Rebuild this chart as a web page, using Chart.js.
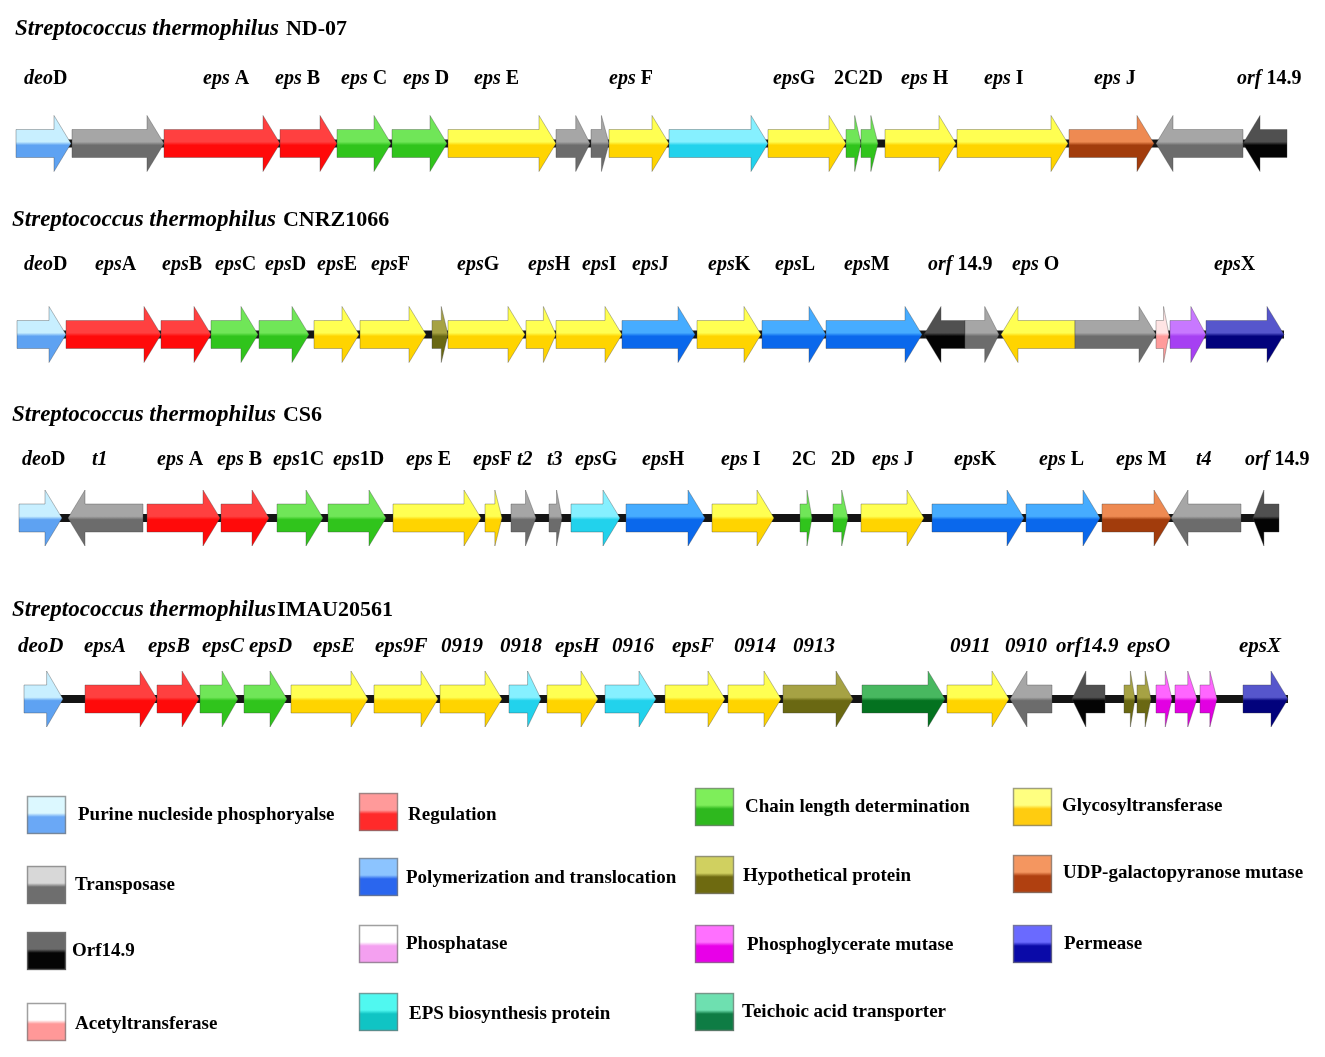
<!DOCTYPE html>
<html>
<head>
<meta charset="utf-8">
<script src="https://cdn.jsdelivr.net/npm/chart.js@4.4.1/dist/chart.umd.min.js"></script>
<style>
  html, body { margin:0; padding:0; background:#ffffff; }
  #wrap { width:1325px; height:1057px; position:relative; }
  canvas { display:block; }
</style>
</head>
<body>
<div id="wrap"><canvas id="c" width="1325" height="1057" style="width:1325px;height:1057px"></canvas></div>
<script>
// ---------- DATA ----------
// Strain names
const strainSpecies = ["Streptococcus thermophilus","Streptococcus thermophilus","Streptococcus thermophilus","Streptococcus thermophilus"];
const strainNames = ["ND-07","CNRZ1066","CS6","IMAU20561"];

// Gene categories (functional classes)
const categoryNames = [
  "Purine nucleside phosphoryalse","Transposase","Orf14.9","Acetyltransferase",
  "Regulation","Polymerization and translocation","Phosphatase","EPS biosynthesis protein",
  "Chain length determination","Hypothetical protein","Phosphoglycerate mutase","Teichoic acid transporter",
  "Glycosyltransferase","UDP-galactopyranose mutase","Permease"
];
const categoryKeys = ["pur","tra","orf","ace","reg","pol","pho","eps","chl","hyp","pgm","tei","gly","udp","per"];

// Row 1: ND-07 — gene start, gene end (position along cluster), strand, category
const nd07Start  = [16, 72, 164, 280, 337, 392, 448, 556, 591, 609, 669, 768, 846, 861, 885, 957, 1069, 1156, 1243];
const nd07End    = [71, 164, 280, 337, 391, 447, 556, 590, 609, 669, 768, 846, 861, 878, 956, 1068, 1154, 1243, 1287];
const nd07Strand = [1,1,1,1,1,1,1,1,1,1,1,1,1,1,1,1,1,-1,-1];
const nd07Cat    = ["pur","tra","reg","reg","chl","chl","gly","tra","tra","gly","eps","gly","chl","chl","gly","gly","udp","tra","orf"];
const nd07Labels = [["deo","D"],["eps"," A"],["eps"," B"],["eps"," C"],["eps"," D"],["eps"," E"],["eps"," F"],["eps","G"],["","2C2D"],["eps"," H"],["eps"," I"],["eps"," J"],["orf"," 14.9"]];
const nd07LabelPos = [24, 203, 275, 341, 403, 474, 609, 773, 834, 901, 984, 1094, 1237];

// Row 2: CNRZ1066
const cnrzStart  = [17, 66, 161, 211, 259, 314, 360, 432, 448, 526, 556, 622, 697, 762, 826, 924, 965, 1001, 1075, 1156, 1170, 1206];
const cnrzEnd    = [66, 161, 211, 258, 309, 359, 426, 448, 525, 556, 622, 695, 761, 826, 922, 965, 999, 1075, 1156, 1169, 1206, 1284];
const cnrzStrand = [1,1,1,1,1,1,1,1,1,1,1,1,1,1,1,-1,1,-1,1,1,1,1];
const cnrzCat    = ["pur","reg","reg","chl","chl","gly","gly","hyp","gly","gly","gly","pol","gly","pol","pol","orf","tra","gly","tra","ace","pho","per"];
const cnrzLabels = [["deo","D"],["eps","A"],["eps","B"],["eps","C"],["eps","D"],["eps","E"],["eps","F"],["eps","G"],["eps","H"],["eps","I"],["eps","J"],["eps","K"],["eps","L"],["eps","M"],["orf"," 14.9"],["eps"," O"],["eps","X"]];
const cnrzLabelPos = [24, 95, 162, 215, 265, 317, 371, 457, 528, 582, 632, 708, 775, 844, 928, 1012, 1214];

// Row 3: CS6
const cs6Start  = [19, 68, 147, 221, 277, 328, 393, 485, 511, 549, 571, 626, 712, 800, 833, 861, 932, 1026, 1102, 1171, 1253];
const cs6End    = [62, 143, 220, 269, 323, 386, 481, 502, 536, 562, 620, 705, 774, 812, 848, 924, 1024, 1100, 1171, 1241, 1279];
const cs6Strand = [1,-1,1,1,1,1,1,1,1,1,1,1,1,1,1,1,1,1,1,-1,-1];
const cs6Cat    = ["pur","tra","reg","reg","chl","chl","gly","gly","tra","tra","eps","pol","gly","chl","chl","gly","pol","pol","udp","tra","orf"];
const cs6Labels = [["deo","D"],["t1",""],["eps"," A"],["eps"," B"],["eps","1C"],["eps","1D"],["eps"," E"],["eps","F"],["t2",""],["t3",""],["eps","G"],["eps","H"],["eps"," I"],["","2C"],["","2D"],["eps"," J"],["eps","K"],["eps"," L"],["eps"," M"],["t4",""],["orf"," 14.9"]];
const cs6LabelPos = [22, 92, 157, 217, 273, 333, 406, 473, 517, 547, 575, 642, 721, 792, 831, 872, 954, 1039, 1116, 1196, 1245];

// Row 4: IMAU20561
const imauStart  = [24, 85, 157, 200, 244, 291, 374, 440, 509, 547, 605, 665, 728, 783, 862, 947, 1010, 1072, 1124, 1137, 1156, 1175, 1200, 1243];
const imauEnd    = [63, 157, 199, 238, 287, 368, 438, 502, 541, 598, 656, 725, 781, 853, 945, 1009, 1052, 1105, 1135, 1151, 1172, 1197, 1217, 1288];
const imauStrand = [1,1,1,1,1,1,1,1,1,1,1,1,1,1,1,1,-1,-1,1,1,1,1,1,1];
const imauCat    = ["pur","reg","reg","chl","chl","gly","gly","gly","eps","gly","eps","gly","gly","hyp","tei","gly","tra","orf","hyp","hyp","pgm","pgm","pgm","per"];
const imauLabels = [["deoD",""],["epsA",""],["epsB",""],["epsC",""],["epsD",""],["epsE",""],["eps9F",""],["0919",""],["0918",""],["epsH",""],["0916",""],["epsF",""],["0914",""],["0913",""],["0911",""],["0910",""],["orf14.9",""],["epsO",""],["epsX",""]];
const imauLabelPos = [18, 84, 148, 202, 249, 313, 375, 441, 500, 555, 612, 672, 734, 793, 950, 1005, 1056, 1127, 1239];

// ---------- STYLE / LAYOUT ----------
const fillColors = {
  pur:["#c8efff","#5ea2f2"], tra:["#a6a6a6","#6c6c6c"], orf:["#505050","#040404"], ace:["#ffe4e4","#ff9c9c"],
  reg:["#ff4040","#ff0a0a"], pol:["#46acff","#0a68ec"], pho:["#c878ff","#a640f2"], eps:["#86f0ff","#22d2ec"],
  chl:["#70e658","#30c41c"], hyp:["#a6a244","#6a6812"], pgm:["#ff66ff","#e200e2"], tei:["#48b860","#047220"],
  gly:["#ffff52","#ffd400"], udp:["#ee8a52","#a23c0c"], per:["#5656cc","#02027c"]
};
const swatchColors = {
  pur:["#dcf8ff","#6aa8f6"], tra:["#d8d8d8","#6e6e6e"], orf:["#6a6a6a","#050505"], ace:["#ffffff","#ff9898"],
  reg:["#ff9a9a","#ff2a2a"], pol:["#8cc4ff","#2a66ee"], pho:["#ffffff","#f4a0f0"], eps:["#50f8f0","#10c4c4"],
  chl:["#7eee5a","#2eb81e"], hyp:["#d0d060","#6e6a10"], pgm:["#ff70ff","#e800e8"], tei:["#6ee0b0","#0e7c44"],
  gly:["#ffff80","#ffcc10"], udp:["#f49660","#b04010"], per:["#6a6aff","#0a0aa8"]
};
const rowY = [143.5, 334.5, 518, 699];
const titleY = [29, 220, 415, 610];
const labelY = [79, 265, 460, 647];

const rows = [
  {s:nd07Start, e:nd07End, d:nd07Strand, c:nd07Cat, L:nd07Labels, P:nd07LabelPos, allItalic:false},
  {s:cnrzStart, e:cnrzEnd, d:cnrzStrand, c:cnrzCat, L:cnrzLabels, P:cnrzLabelPos, allItalic:false},
  {s:cs6Start, e:cs6End, d:cs6Strand, c:cs6Cat, L:cs6Labels, P:cs6LabelPos, allItalic:false},
  {s:imauStart, e:imauEnd, d:imauStrand, c:imauCat, L:imauLabels, P:imauLabelPos, allItalic:true}
];

// legend layout: [category key, swatch x, swatch y(top), text x, text y(middle)]
const legendLayout = [
  ["pur",27,796,78,815],["tra",27,866,75,885],["orf",27,932,72,951],["ace",27,1003,75,1024],
  ["reg",359,793,408,815],["pol",359,858,406,878],["pho",359,925,406,944],["eps",359,993,409,1014],
  ["chl",695,788,745,807],["hyp",695,856,743,876],["pgm",695,925,747,945],["tei",695,993,742,1012],
  ["gly",1013,788,1062,806],["udp",1013,855,1063,873],["per",1013,925,1064,944]
];

const SERIF = '"Liberation Serif","Times New Roman",serif';
const BODY_H = 14, HEAD_H = 28;

function drawGene(ctx, x0, x1, cy, dir, cols) {
  const len = x1 - x0;
  const h = Math.min(17, len * 0.42);
  ctx.beginPath();
  if (dir > 0) {
    ctx.moveTo(x0, cy - BODY_H);
    ctx.lineTo(x1 - h, cy - BODY_H);
    ctx.lineTo(x1 - h, cy - HEAD_H);
    ctx.lineTo(x1, cy);
    ctx.lineTo(x1 - h, cy + HEAD_H);
    ctx.lineTo(x1 - h, cy + BODY_H);
    ctx.lineTo(x0, cy + BODY_H);
  } else {
    ctx.moveTo(x1, cy - BODY_H);
    ctx.lineTo(x0 + h, cy - BODY_H);
    ctx.lineTo(x0 + h, cy - HEAD_H);
    ctx.lineTo(x0, cy);
    ctx.lineTo(x0 + h, cy + HEAD_H);
    ctx.lineTo(x0 + h, cy + BODY_H);
    ctx.lineTo(x1, cy + BODY_H);
  }
  ctx.closePath();
  const g = ctx.createLinearGradient(0, cy - HEAD_H, 0, cy + HEAD_H);
  g.addColorStop(0, cols[0]);
  g.addColorStop(0.47, cols[0]);
  g.addColorStop(0.53, cols[1]);
  g.addColorStop(1, cols[1]);
  ctx.fillStyle = g;
  ctx.fill();
  ctx.lineWidth = 1;
  ctx.strokeStyle = "rgba(60,60,60,0.35)";
  ctx.stroke();
}

function drawMixed(ctx, x, y, ital, norm, size, allItalic) {
  ctx.textBaseline = "middle";
  ctx.textAlign = "left";
  ctx.fillStyle = "#000";
  let cx = x;
  if (ital) {
    ctx.font = "italic bold " + size + "px " + SERIF;
    ctx.fillText(ital, cx, y);
    cx += ctx.measureText(ital).width;
  }
  if (norm) {
    ctx.font = (allItalic ? "italic " : "") + "bold " + size + "px " + SERIF;
    ctx.fillText(norm, cx, y);
  }
}

const genePlugin = {
  id: "geneClusters",
  afterDraw(chart) {
    const ctx = chart.ctx;
    const xs = chart.scales.x, ys = chart.scales.y;
    ctx.save();
    rows.forEach((r, ri) => {
      const cy = ys.getPixelForValue(rowY[ri]);
      // backbone
      const bx0 = xs.getPixelForValue(r.s[0]);
      const bx1 = xs.getPixelForValue(r.e[r.e.length - 1]);
      ctx.fillStyle = "#141414";
      ctx.fillRect(bx0, cy - 4, bx1 - bx0, 8);
      // genes
      for (let i = 0; i < r.s.length; i++) {
        drawGene(ctx, xs.getPixelForValue(r.s[i]), xs.getPixelForValue(r.e[i]), cy, r.d[i], fillColors[r.c[i]]);
      }
      // title
      const ty = ys.getPixelForValue(titleY[ri]);
      const tx = xs.getPixelForValue(ri === 0 ? 15 : 12);
      ctx.textBaseline = "middle"; ctx.textAlign = "left"; ctx.fillStyle = "#000";
      ctx.font = "italic bold 23px " + SERIF;
      ctx.fillText(strainSpecies[ri], tx, ty);
      const w = ctx.measureText(strainSpecies[ri]).width;
      ctx.font = "bold 22px " + SERIF;
      ctx.fillText(strainNames[ri], tx + w + (ri === 3 ? 1 : 7), ty);
      // labels
      const ly = ys.getPixelForValue(labelY[ri]);
      r.L.forEach((lab, li) => {
        drawMixed(ctx, xs.getPixelForValue(r.P[li]), ly, lab[0], lab[1], ri === 3 ? 21 : 20, r.allItalic);
      });
    });
    // legend
    legendLayout.forEach(item => {
      const k = item[0];
      const sx = xs.getPixelForValue(item[1]);
      const sy = ys.getPixelForValue(item[2]);
      const sw = 39, sh = 38;
      const g = ctx.createLinearGradient(0, sy, 0, sy + sh);
      const c = swatchColors[k];
      g.addColorStop(0, c[0]);
      g.addColorStop(0.45, c[0]);
      g.addColorStop(0.55, c[1]);
      g.addColorStop(1, c[1]);
      ctx.fillStyle = g;
      ctx.fillRect(sx, sy, sw, sh);
      ctx.lineWidth = 1.5;
      ctx.strokeStyle = "rgba(120,120,120,0.7)";
      ctx.strokeRect(sx + 0.5, sy + 0.5, sw - 1, sh - 1);
      ctx.fillStyle = "#000";
      ctx.font = "bold 19px " + SERIF;
      ctx.textBaseline = "middle"; ctx.textAlign = "left";
      ctx.fillText(categoryNames[categoryKeys.indexOf(k)], xs.getPixelForValue(item[3]), ys.getPixelForValue(item[4]));
    });
    ctx.restore();
  }
};

new Chart(document.getElementById("c").getContext("2d"), {
  type: "scatter",
  data: { datasets: [] },
  options: {
    responsive: false,
    animation: false,
    devicePixelRatio: 1,
    layout: { padding: 0 },
    plugins: { legend: { display: false }, tooltip: { enabled: false } },
    scales: {
      x: { type: "linear", min: 0, max: 1325, display: false },
      y: { type: "linear", min: 0, max: 1057, reverse: true, display: false }
    }
  },
  plugins: [genePlugin]
});
</script>
</body>
</html>
